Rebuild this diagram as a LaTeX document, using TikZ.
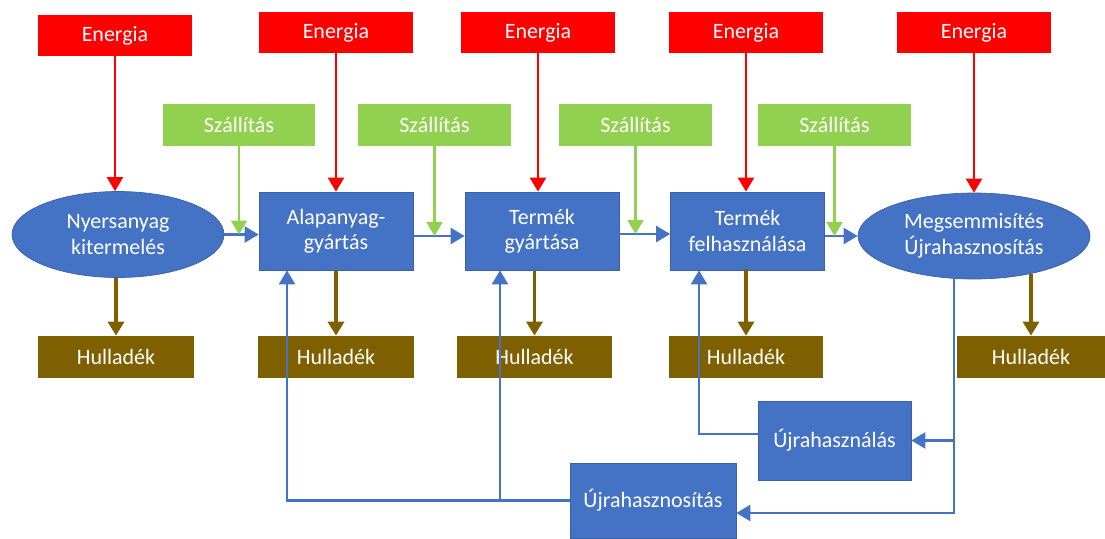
\documentclass[tikz,border=0pt]{standalone}
\usepackage{fontspec}
\setmainfont{Carlito}
\usetikzlibrary{arrows.meta,shapes.geometric,positioning,calc}
\definecolor{kek}{HTML}{4472C4}
\definecolor{piros}{HTML}{FF0000}
\definecolor{zold}{HTML}{92D050}
\definecolor{barna}{HTML}{7F6000}
\tikzset{
  felirat/.style={text=white, font=\fontsize{12.5}{14.5}\selectfont, align=center, inner sep=0pt},
  energia/.style={felirat, rectangle, fill=piros, minimum width=3.08cm, minimum height=0.82cm},
  szallitas/.style={felirat, rectangle, fill=zold, minimum width=3.06cm, minimum height=0.84cm},
  folyamat/.style={felirat, rectangle, fill=kek, draw=kek!85!black, minimum width=3.08cm, minimum height=1.56cm},
  vegpont/.style={felirat, ellipse, fill=kek, draw=kek!85!black, minimum width=4.24cm, minimum height=1.72cm},
  hulladek/.style={felirat, rectangle, fill=barna, minimum width=3.1cm, minimum height=0.84cm}}
\tikzset{
  hegy/.style={-{Triangle[length=0.28cm,width=0.32cm]}},
  enarr/.style={hegy, draw=piros, line width=1.2pt},
  szarr/.style={hegy, draw=zold, line width=1.2pt},
  flowarr/.style={hegy, draw=kek, line width=1.3pt},
  hularr/.style={hegy, draw=barna, line width=1.8pt},
  hularr1/.style={hegy, draw=barna, line width=2.6pt},
  visszaarr/.style={hegy, draw=kek, line width=1.3pt}
}
\begin{document}
\begin{tikzpicture}[x=0.02cm, y=-0.02cm]
\useasboundingbox (0,0) rectangle (1105,538);

%FOLYAMAT
\node[vegpont](nyers) at (118,234.5) {Nyersanyag\\kitermelés};
\node[folyamat](alap) at (336,231) {Alapanyag-\\gyártás};
\node[folyamat](gyartas) at (542,231) {Termék\\gyártása};
\node[folyamat](felh) at (747.5,231) {Termék\\felhasználása};
\node[vegpont, minimum width=4.64cm](megs) at (974,236) {Megsemmisítés\\Újrahasznosítás};

%ENERGIA
\node[energia](e1) at (115,35.5) {Energia};
\node[energia](e2) at (336,32.5) {Energia};
\node[energia](e3) at (538,32.5) {Energia};
\node[energia](e4) at (746,32.5) {Energia};
\node[energia](e5) at (974,32.5) {Energia};

%SZALLITAS
\node[szallitas](sz1) at (239,125) {Szállítás};
\node[szallitas](sz2) at (434.5,125) {Szállítás};
\node[szallitas](sz3) at (635.5,125) {Szállítás};
\node[szallitas](sz4) at (834.5,125) {Szállítás};

%HULLADEK
\node[hulladek, minimum width=3.12cm](h1) at (116,357) {Hulladék};
\node[hulladek, minimum width=3.12cm](h2) at (336,357) {Hulladék};
\node[hulladek](h3) at (534.5,357) {Hulladék};
\node[hulladek, minimum width=3.08cm](h4) at (746,357) {Hulladék};
\node[hulladek, minimum width=2.96cm](h5) at (1031,357) {Hulladék};

%UJRA
\node[folyamat, minimum width=3.06cm, minimum height=1.58cm](hasznal) at (834.5,440.5) {Újrahasználás};
\node[folyamat, minimum width=3.32cm, minimum height=1.5cm](hasznosit) at (653,500.5) {Újrahasznosítás};

\draw[enarr] (e1) -- (e1 |- nyers.north);
\draw[enarr] (e2) -- (alap.north);
\draw[enarr] (e3) -- (e3 |- gyartas.north);
\draw[enarr] (e4) -- (e4 |- felh.north);
\draw[enarr] (e5) -- (megs.north);

\draw[flowarr] (nyers.east) -- (nyers.east -| alap.west);
\draw[flowarr] ([yshift=-0.1cm]alap.east) -- ([yshift=-0.1cm]gyartas.west);
\draw[flowarr] ([yshift=-0.06cm]gyartas.east) -- ([yshift=-0.06cm]felh.west);
\draw[flowarr] ([yshift=-0.1cm]felh.east) -- ([yshift=-0.1cm]felh.east -| megs.west);

\draw[szarr] (sz1) -- (sz1 |- nyers.east);
\draw[szarr] (sz2) -- ([yshift=-0.1cm]sz2 |- alap.east);
\draw[szarr] (sz3) -- ([yshift=-0.06cm]sz3 |- gyartas.east);
\draw[szarr] (sz4) -- ([yshift=-0.1cm]sz4 |- felh.east);

\draw[hularr1] (h1 |- nyers.south) -- (h1.north);
\draw[hularr1] (alap.south) -- (h2.north);
\draw[hularr] (h3 |- gyartas.south) -- (h3.north);
\draw[hularr] (felh.south) -- (h4 |- felh.south) -- (h4.north);
\draw[hularr] ([yshift=0.1cm]h5 |- megs.south) -- (h5.north);

\draw[visszaarr] ([xshift=-0.4cm]megs.south) |- (hasznal.east);
\draw[visszaarr] ([xshift=-0.4cm]megs.south) |- ([yshift=-0.25cm]hasznosit.east);
\draw[visszaarr] ([yshift=0.13cm]hasznal.west) -| ([xshift=-0.97cm]felh.south);
\draw[visszaarr] (hasznosit.west) -| ([xshift=-0.84cm]gyartas.south);
\draw[visszaarr] (hasznosit.west) -| ([xshift=-0.98cm]alap.south);
\end{tikzpicture}
\end{document}
